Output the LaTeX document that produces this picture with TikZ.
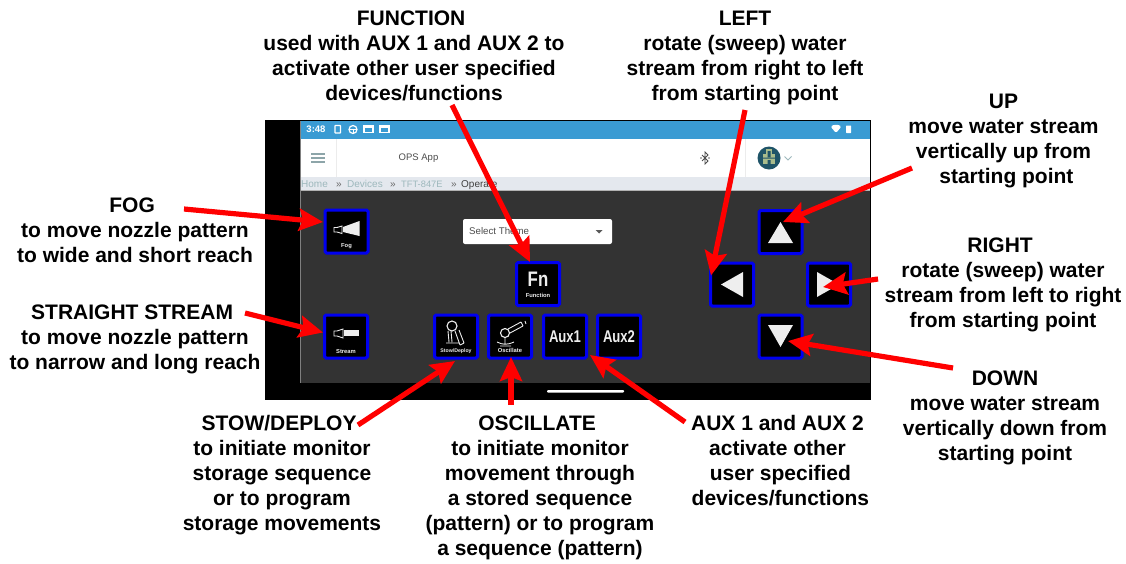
\documentclass[tikz,border=0pt]{standalone}
\usepackage{fontspec}
\setmainfont{Liberation Sans}
\usetikzlibrary{arrows.meta,calc}
\definecolor{barblue}{HTML}{3A9BD3}
\definecolor{crumb}{HTML}{E4E8EE}
\definecolor{dark}{HTML}{333333}
\definecolor{teal}{HTML}{9DB8BC}
\definecolor{btnblue}{HTML}{0000F0}
\definecolor{icon}{HTML}{EEEEEE}
\definecolor{avatar}{HTML}{1F5468}
\definecolor{avatarg}{HTML}{A9BC8C}
\newcommand{\gapsp}{\hspace*{5.8pt}}
\tikzset{
 x=1pt,y=-1pt,
 lbl/.style={font=\fontsize{21}{25}\bfseries\selectfont,align=center,text=black,inner sep=0pt},
 btn/.style={draw=btnblue,line width=3pt,fill=black,minimum size=43pt,inner sep=0pt,rounded corners=1.5pt},
 arr/.style={draw=red,line width=5.2pt,-{Stealth[length=24pt,width=22pt,inset=4pt,fill=red]},shorten <=0pt},
 smalltxt/.style={font=\fontsize{5.8}{6}\bfseries\selectfont,text=icon,inner sep=0pt},
 captxt/.style={text=icon,inner sep=0pt},
 crumbt/.style={font=\fontsize{10}{12}\selectfont,inner sep=0pt,anchor=base west},
 iconline/.style={draw=icon,line width=.9pt},
 tri/.style={fill=icon},
}
\begin{document}
\begin{tikzpicture}
\useasboundingbox (0,0) rectangle (1126,563);
% device
\fill[black] (265,120) rectangle (871,400);
\fill[dark] (300,191) rectangle (870,383);
\fill[white] (301,139) rectangle (870,177);
\fill[crumb] (301,177) rectangle (870,190);
\fill[barblue] (301,121) rectangle (870,139);
\draw[gray,line width=.8pt] (300.5,121) -- (300.5,383);
\draw[gray!60,line width=.8pt] (301,190.5) -- (870,190.5);
\draw[gray!15,line width=.8pt] (336,139) -- (336,177) (745,139) -- (745,177);
\fill[white,rounded corners=1pt] (547,390) rectangle (624,392.5);
% status bar
\node[font=\fontsize{9.5}{11}\bfseries\selectfont,text=white,inner sep=0pt] (clock) at (316,129) {3:48};
\draw[white,line width=1.2pt,rounded corners=.5pt] (335,125.5) rectangle (340.5,133);
\draw[white,line width=1.2pt] (353,129.5) circle (4);
\draw[white,line width=.9pt] (349,129) -- (357,129) (353,129.5) -- (353,133);
\draw[white,line width=1.2pt] (364,126) rectangle (373,132.5);
\fill[white] (364,126) rectangle (373,128);
\draw[white,line width=1.2pt] (380,126) rectangle (389,132.5);
\fill[white] (380,126) rectangle (389,128);
\fill[white,rounded corners=1.5pt] (830.5,126.5) .. controls (834,124.5) and (838,124.5) .. (841.5,126.5) -- (836,133) -- cycle;
\fill[white,rounded corners=.5pt] (846,125.5) rectangle (851,133);
% header
\draw[teal!90!black,line width=1.2pt] (311,154) -- (325,154) (311,158) -- (325,158) (311,162) -- (325,162);
\node[font=\fontsize{9.5}{11}\selectfont,text=black!70,inner sep=0pt] (title) at (418.5,158) {OPS App};
\draw[black!70,line width=.8pt] (702,155) -- (708,161) -- (705,164) -- (705,152) -- (708,155) -- (702,161);
\fill[black!60] (701,158) circle (.8) (709,158) circle (.8);
\fill[avatar] (769,158) circle (11.5);
\fill[avatarg] (763,154) rectangle (775,164);
\fill[avatarg] (766,149) rectangle (772,154);
\fill[avatar] (767.5,151) rectangle (770.5,157) (761,157.5) rectangle (777,158.5) (767.5,160) rectangle (770.5,165);
\draw[teal,line width=.9pt] (784.5,156.5) -- (788,160) -- (791.5,156.5);
% breadcrumb
\node[crumbt,text=teal] (c1) at (301,187.5) {Home};
\node[crumbt,text=black!60] (s1) at (336,187.5) {»};
\node[crumbt,text=teal] (c2) at (347,187.5) {Devices};
\node[crumbt,text=black!60] (s2) at (390,187.5) {»};
\node[crumbt,text=teal,font=\fontsize{9.3}{12}\selectfont] (c3) at (401,187.5) {TFT-847E};
\node[crumbt,text=black!60] (s3) at (451,187.5) {»};
\node[crumbt,text=black!75] (c4) at (461,187.5) {Operate};
% select
\node[fill=white,rounded corners=2pt,minimum width=149pt,minimum height=25pt,inner sep=0pt] (sel) at (537.5,231.5) {};
\node[font=\fontsize{9.7}{11}\selectfont,text=black!70,anchor=west,inner sep=0pt] (seltext) at (469,231.5) {Select Theme};
\fill[black!65] (595.5,230) -- (602.5,230) -- (599,233.5) -- cycle;
% buttons
\node[btn] (fog) at (346.5,231.5) {};
\node[btn] (stream) at (346,336.5) {};
\node[btn] (stow) at (456,336.5) {};
\node[btn] (osc) at (510,336.5) {};
\node[btn] (aux1) at (565,336.5) {};
\node[btn] (aux2) at (619,336.5) {};
\node[btn] (fn) at (538,284) {};
\node[btn] (up) at (780.5,232) {};
\node[btn] (left) at (732,284.5) {};
\node[btn] (right) at (829,284.5) {};
\node[btn] (down) at (780.5,336.5) {};
% icons
\fill[icon] (343,227) -- (359.5,221) -- (359.5,236) -- (343,232) -- cycle;
\draw[iconline] (342,226) -- (342,233.5) -- (337,232) -- (334,232) -- (334,227.5) -- (337,227.5) -- cycle;
\node[smalltxt] (fogt) at (346.5,246) {Fog};
\fill[icon] (343.5,330) rectangle (359,336);
\draw[iconline] (343,329) -- (343,338) -- (337,336) -- (334,336) -- (334,331) -- (337,331) -- cycle;
\node[smalltxt] (streamt) at (346,351) {Stream};
\draw[iconline,line width=1.1pt] (452,326) circle (5);
\draw[iconline] (448,331) -- (449,342) (451,331) -- (452,342) (446,343) -- (459,343) (455,331) -- (460,345) (459,330) -- (464,343) (460,345) -- (464,343);
\node[smalltxt,font=\fontsize{5.2}{6}\bfseries\selectfont] (stowt) at (456,351) {Stow/Deploy};
\draw[iconline,line width=1.1pt] (505,333) circle (4.5);
\draw[iconline] (508,329) -- (521,322) (510,333) -- (523,326) (521,322) -- (523,326) (525,321) -- (526,324);
\draw[iconline] (505,338) -- (505,344) (497,342) .. controls (503,345) and (507,345) .. (514,342) (500,346) -- (511,346);
\node[smalltxt] (osct) at (510,350) {Oscillate};
\node[captxt,font=\fontsize{17}{20}\bfseries\selectfont,xscale=.77] (aux1t) at (565,337) {Aux1};
\node[captxt,font=\fontsize{17}{20}\bfseries\selectfont,xscale=.77] (aux2t) at (619,337) {Aux2};
\node[captxt,font=\fontsize{21}{24}\bfseries\selectfont,xscale=.8] (fnt) at (538,279) {Fn};
\node[smalltxt] (fnl) at (538,295) {Function};
\fill[tri] (780.5,222) -- (768,243) -- (793,243) -- cycle;
\fill[tri] (721,284.5) -- (743,272) -- (743,297) -- cycle;
\fill[tri] (839,284.5) -- (817,272) -- (817,297) -- cycle;
\fill[tri] (780.5,347) -- (768,325) -- (793,325) -- cycle;
% labels
\node[lbl] (Lfn) at (414,55.5) {FUNCTION\gapsp\\used with AUX 1 and AUX 2 to\\activate other user specified\\devices/functions};
\node[lbl] (Lleft) at (745,57.5) {LEFT\\rotate (sweep) water\\stream from right to left\\from starting point};
\node[lbl] (Lup) at (1003.5,140.5) {UP\\move water stream\\vertically up from\\\gapsp starting point};
\node[lbl] (Lfog) at (135,230) {FOG\gapsp\\to move nozzle pattern\\to wide and short reach};
\node[lbl] (Lstream) at (135,339) {STRAIGHT STREAM\gapsp\\to move nozzle pattern\\to narrow and long reach};
\node[lbl] (Lright) at (1003,284.5) {RIGHT\gapsp\\rotate (sweep) water\\stream from left to right\\from starting point};
\node[lbl] (Ldown) at (1005,417.5) {DOWN\\move water stream\\vertically down from\\starting point};
\node[lbl] (Lstow) at (282,475) {STOW/DEPLOY\gapsp\\to initiate monitor\\storage sequence\\or to program\\storage movements};
\node[lbl] (Losc) at (540,487.5) {OSCILLATE\gapsp\\to initiate monitor\\movement through\\a stored sequence\\(pattern) or to program\\a sequence (pattern)};
\node[lbl] (Laux) at (777.5,460.5) {AUX 1 and AUX 2\\activate other\\\gapsp user specified\\\gapsp devices/functions};
% connector ends
\coordinate (a1) at (184,209); \coordinate (b1) at ($(fog.center)+(-23.5,-9.5)$);
\coordinate (a2) at (245,313); \coordinate (b2) at ($(stream.center)+(-23,-4)$);
\coordinate (a3) at (452,105); \coordinate (b3) at ($(fn.center)+(-8,-22)$);
\coordinate (a4) at (745,110); \coordinate (b4) at ($(left.center)+(-21,-9)$);
\coordinate (a5) at (912,168); \coordinate (b5) at ($(up.center)+(2.5,-10)$);
\coordinate (a6) at (878,279); \coordinate (b6) at ($(right.center)+(-6,2.5)$);
\coordinate (a7) at (953,368); \coordinate (b7) at ($(down.center)+(7.5,4.5)$);
\coordinate (a8) at (358,425); \coordinate (b8) at ($(stow.center)+(-1,24.5)$);
\coordinate (a9) at (511,405); \coordinate (b9) at ($(osc.center)+(1,20.5)$);
\coordinate (a10) at (685,422); \coordinate (b10) at ($(aux1.center)+(25,18.5)$);
\draw[arr] (a1) -- (b1);
\draw[arr] (a2) -- (b2);
\draw[arr] (a3) -- (b3);
\draw[arr] (a4) -- (b4);
\draw[arr] (a5) -- (b5);
\draw[arr] (a6) -- (b6);
\draw[arr] (a7) -- (b7);
\draw[arr] (a8) -- (b8);
\draw[arr] (a9) -- (b9);
\draw[arr] (a10) -- (b10);
\end{tikzpicture}
\end{document}
